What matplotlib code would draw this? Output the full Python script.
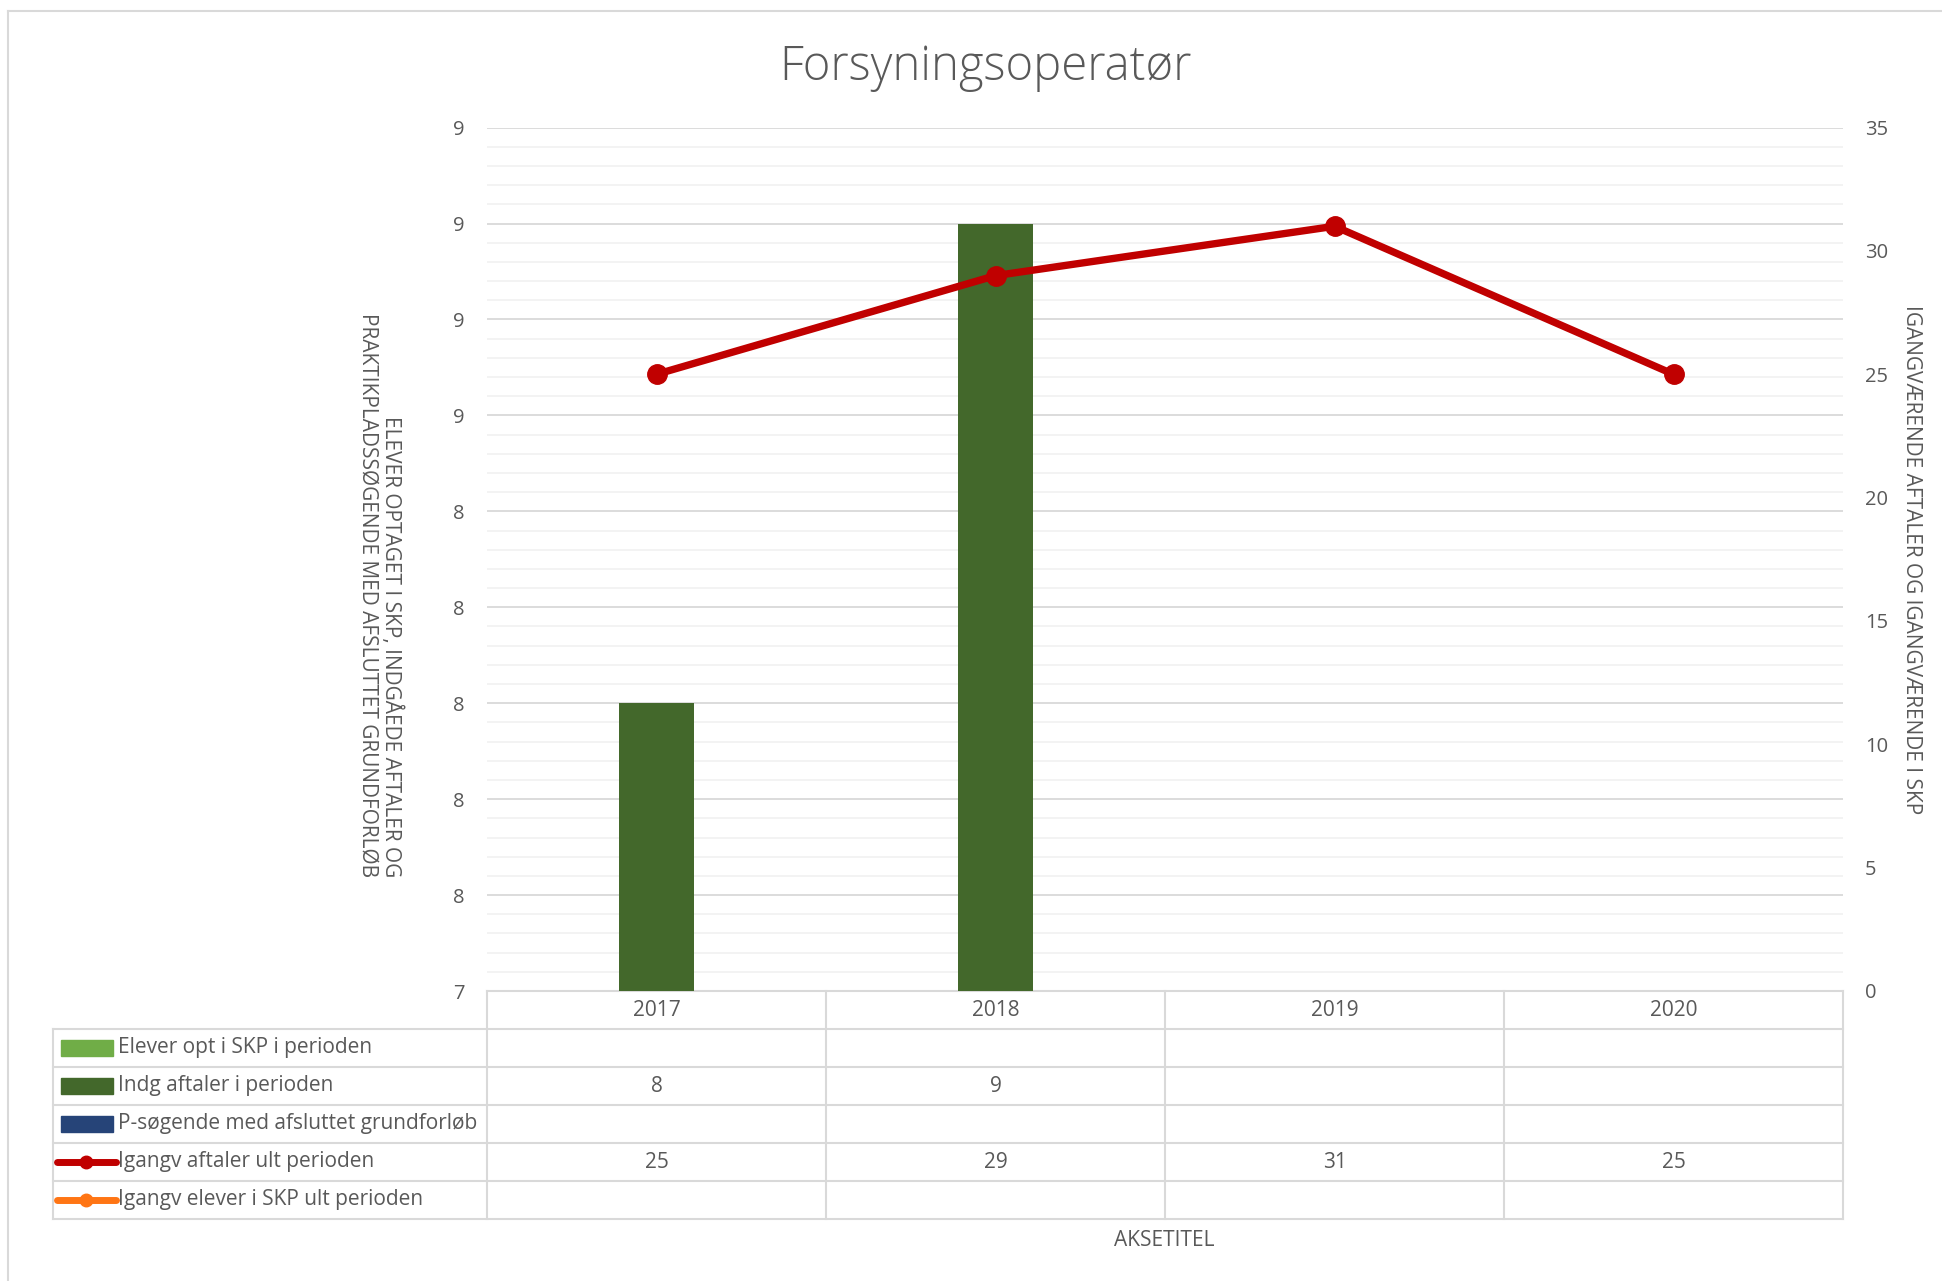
# Forsyningsoperatør - combo chart with data table (Excel style)
import numpy as np
import matplotlib
matplotlib.use("Agg")
import matplotlib.pyplot as plt
from matplotlib.ticker import MultipleLocator, FormatStrFormatter

plt.rcParams['font.family'] = ['Open Sans', 'DejaVu Sans']

years = ['2017', '2018', '2019', '2020']
elever_opt = [np.nan, np.nan, np.nan, np.nan]
indg_aftaler = [8, 9, np.nan, np.nan]
p_sogende = [np.nan, np.nan, np.nan, np.nan]
igangv_aftaler = [25, 29, 31, 25]
igangv_elever = [np.nan, np.nan, np.nan, np.nan]

series_names = ['Elever opt i SKP i perioden', 'Indg aftaler i perioden',
                'P-søgende med afsluttet grundforløb', 'Igangv aftaler ult perioden',
                'Igangv elever i SKP ult perioden']
series_colors = ['#70AD47', '#43682B', '#264478', '#C00000', '#FF7514']
series_kind = ['bar', 'bar', 'bar', 'line', 'line']
series_data = [elever_opt, indg_aftaler, p_sogende, igangv_aftaler, igangv_elever]

text_col = '#595959'
grid_col = '#D9D9D9'

W, H = 1942, 1281
fig = plt.figure(figsize=(W / 100, H / 100), dpi=100)

# plot area in pixels
left, right, top, bottom = 487, 1843, 127.6, 991
ax = fig.add_axes([left / W, 1 - bottom / H, (right - left) / W, (bottom - top) / H])
x = np.arange(len(years))

# bars (clustered, 3 slots)
bw = 0.22
for k, off in zip(range(3), [-bw, 0, bw]):
    ax.bar(x + off, series_data[k], width=bw, color=series_colors[k], zorder=3)

ax.set_xlim(-0.5, 3.5)
ax.set_ylim(7.4, 9.2)
ax.yaxis.set_major_locator(MultipleLocator(0.2))
ax.yaxis.set_minor_locator(MultipleLocator(0.04))
ax.yaxis.set_major_formatter(FormatStrFormatter('%.0f'))
ax.grid(axis='y', which='major', color=grid_col, lw=1.3, zorder=0)
ax.grid(axis='y', which='minor', color='#F2F2F2', lw=1.3, zorder=0)
ax.set_xticks([])
ax.tick_params(axis='y', which='both', length=0, pad=16, labelsize=14.5, labelcolor=text_col)
for s in ['left', 'right', 'top']:
    ax.spines[s].set_visible(False)
ax.spines['bottom'].set_color(grid_col)
ax.spines['bottom'].set_linewidth(1.5)

# lines on secondary axis
ax2 = ax.twinx()
for k in (3, 4):
    ax2.plot(x, series_data[k], color=series_colors[k], lw=5.3, marker='o',
             markersize=14, zorder=4)
ax2.set_ylim(0, 35)
ax2.yaxis.set_major_locator(MultipleLocator(5))
ax2.tick_params(axis='y', length=0, pad=16, labelsize=14.5, labelcolor=text_col)
for s in ['left', 'right', 'top', 'bottom']:
    ax2.spines[s].set_visible(False)

# title and axis titles
fig.text(985 / W, 1 - 68 / H, 'Forsyningsoperatør', ha='center', va='center',
         fontsize=34, color=text_col, fontweight='light')
fig.text(380 / W, 1 - 595 / H,
         'ELEVER OPTAGET I SKP, INDGÅEDE AFTALER OG\nPRAKTIKPLADSSØGENDE MED AFSLUTTET GRUNDFORLØB',
         rotation=270, ha='center', va='center', multialignment='right',
         fontsize=15, color=text_col, linespacing=1.15)
fig.text(1911 / W, 1 - 560 / H, 'IGANGVÆRENDE AFTALER OG IGANGVÆRENDE I SKP',
         rotation=270, ha='center', va='center', fontsize=15, color=text_col)

# data table
tleft, tbottom = 53, 1219
cat_px = (right - left) / 4
lx0 = -0.5 - (left - tleft) / cat_px
tax = fig.add_axes([tleft / W, 1 - tbottom / H, (right - tleft) / W, (tbottom - bottom) / H])
tax.set_xlim(lx0, 3.5)
tax.set_ylim(6, 0)
tax.axis('off')


def px(p):
    return lx0 + (p - tleft) / cat_px


lc = dict(color=grid_col, lw=1.5, clip_on=False)
for r in range(1, 7):
    tax.plot([lx0, 3.5], [r, r], **lc)
tax.plot([lx0, lx0], [1, 6], **lc)
for c in [-0.5, 0.5, 1.5, 2.5, 3.5]:
    tax.plot([c, c], [0, 6], **lc)

for i, yr in enumerate(years):
    tax.text(i, 0.5, yr, ha='center', va='center', fontsize=15, color=text_col)

for r, (name, col, kind, vals) in enumerate(zip(series_names, series_colors, series_kind, series_data)):
    yc = r + 1.5
    if kind == 'bar':
        tax.add_patch(plt.Rectangle((px(61), yc - 0.2), px(113) - px(61), 0.4,
                                    color=col, clip_on=False))
    else:
        tax.plot([px(57), px(116)], [yc, yc], color=col, lw=5, solid_capstyle='round',
                 clip_on=False)
        tax.plot([px(86)], [yc], marker='o', color=col, markersize=9, clip_on=False)
    tax.text(px(118), yc, name, ha='left', va='center', fontsize=15, color=text_col)
    for i, v in enumerate(vals):
        if not np.isnan(v):
            tax.text(i, yc, '%d' % v, ha='center', va='center', fontsize=15, color=text_col)

fig.text(1164 / W, 1 - 1241 / H, 'AKSETITEL', ha='center', va='center',
         fontsize=15, color=text_col)

# chart frame (left and top edges visible)
fig.add_artist(plt.Line2D([8 / W, 8 / W], [0, 1 - 11 / H], color=grid_col, lw=1.5))
fig.add_artist(plt.Line2D([8 / W, 1], [1 - 11 / H, 1 - 11 / H], color=grid_col, lw=1.5))

fig.savefig('out.png', dpi=100)
